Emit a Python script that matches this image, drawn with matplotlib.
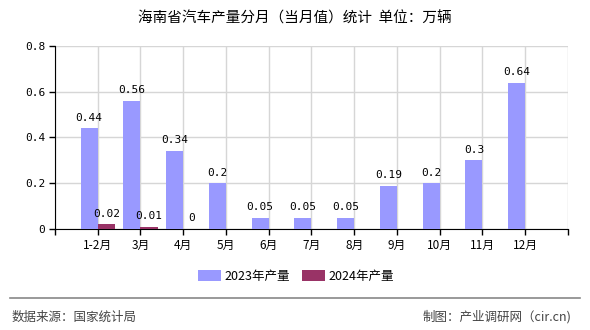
import numpy as np
import matplotlib.pyplot as plt
from matplotlib.lines import Line2D

plt.rcParams['font.family'] = ['Noto Sans CJK SC', 'DejaVu Sans']

# Daten
months = ['1-2月', '3月', '4月', '5月', '6月', '7月', '8月', '9月', '10月', '11月', '12月']
prod_2023 = [0.44, 0.56, 0.34, 0.2, 0.05, 0.05, 0.05, 0.19, 0.2, 0.3, 0.64]
prod_2024 = [0.02, 0.01, 0]
labels_2023 = ['0.44', '0.56', '0.34', '0.2', '0.05', '0.05', '0.05', '0.19', '0.2', '0.3', '0.64']
labels_2024 = ['0.02', '0.01', '0']
c2023 = '#9999ff'
c2024 = '#993366'

fig = plt.figure(figsize=(5.9, 3.3), dpi=100)
ax = fig.add_axes([0.0932, 0.306, 0.8695, 0.555])

x = np.arange(len(months))
w = 0.4
ax.bar(x - w / 2, prod_2023, w, color=c2023, zorder=3, label='2023年产量')
x24 = np.arange(len(prod_2024))
ax.bar(x24 + w / 2, prod_2024, w, color=c2024, zorder=3, label='2024年产量')

mono = ['DejaVu Sans Mono']
for xi, v, t in zip(x, prod_2023, labels_2023):
    ax.text(xi - w / 2, v + 0.025, t, ha='center', va='bottom', fontsize=8, family=mono)
for xi, v, t in zip(x24, prod_2024, labels_2024):
    ax.text(xi + w / 2, v + 0.025, t, ha='center', va='bottom', fontsize=8, family=mono)

ax.set_xlim(-1, 11)
ax.set_ylim(0, 0.8)
ax.set_xticks(np.arange(-1, 12))
ax.set_xticklabels([''] + months + [''], fontsize=8.5)
ax.set_yticks([0, 0.2, 0.4, 0.6, 0.8])
ax.set_yticklabels(['0', '0.2', '0.4', '0.6', '0.8'], fontsize=8, family=mono)
ax.grid(True, color='#d6d6d6', linewidth=1, zorder=0)
for s in ['top', 'right']:
    ax.spines[s].set_visible(False)
ax.spines['left'].set_color('black')
ax.spines['bottom'].set_color('black')
ax.tick_params(axis='both', length=4, width=1, direction='out', pad=3)

fig.text(0.5, 0.945, '海南省汽车产量分月（当月值）统计  单位：万辆', ha='center', va='center', fontsize=10.5)

ax.legend(loc='center', bbox_to_anchor=(0.47, -0.257), ncol=2, frameon=False, fontsize=9,
          handlelength=1.8, handleheight=1.0, columnspacing=1.0, handletextpad=0.3)

fig.add_artist(Line2D([0.017, 0.983], [0.097, 0.097], color='#888888', linewidth=1.2))
fig.text(0.02, 0.04, '数据来源：国家统计局', ha='left', va='center', fontsize=9, color='#444444')
fig.text(0.968, 0.04, '制图：产业调研网（cir.cn)', ha='right', va='center', fontsize=9, color='#444444')

fig.savefig('out.png', dpi=100)
